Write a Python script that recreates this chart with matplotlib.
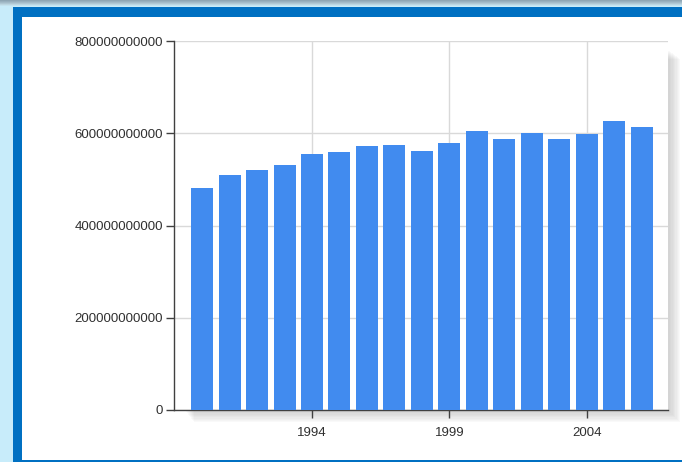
import matplotlib
matplotlib.use("Agg")
import matplotlib.pyplot as plt
from matplotlib.patches import Rectangle
from matplotlib.ticker import FuncFormatter, FixedLocator
import numpy as np

years = [1990, 1991, 1992, 1993, 1994, 1995, 1996, 1997, 1998,
         1999, 2000, 2001, 2002, 2003, 2004, 2005, 2006]
values_billion = [482, 508.5, 521, 530.5, 555, 559, 571.5, 574.5, 561.5,
                  579, 605.5, 588.5, 600.5, 588.5, 598.5, 627, 613]
values = [v * 1e9 for v in values_billion]
y_ticks = [0, 200e9, 400e9, 600e9, 800e9]
x_ticks = [1994, 1999, 2004]

W, H = 682, 462
fig = plt.figure(figsize=(W / 100, H / 100), dpi=100)
fig.patch.set_facecolor("white")

def px_rect(x0, y0, x1, y1, color, z=-3, alpha=1.0):
    # rectangle in pixel coords with y measured from top
    r = Rectangle((x0 / W, 1 - y1 / H), (x1 - x0) / W, (y1 - y0) / H,
                  transform=fig.transFigure, facecolor=color, edgecolor="none",
                  zorder=z, alpha=alpha)
    fig.patches.append(r)

# window background
px_rect(0, 0, W, H, "#C8ECFA")
# top titlebar gradient
grad = ["#8EA6B4", "#98B0BE", "#A3BBC8", "#AFC7D3", "#BCD6E1", "#C4E3EF"]
for i, c in enumerate(grad):
    px_rect(0, i, W, i + 1, c)
# blue border
border = "#0070C2"
px_rect(13.3, 7.3, W, 16.7, border)
px_rect(13.3, 7.3, 22, H, border)
px_rect(13.3, 460, W, H, border)
px_rect(22, 16.7, W, 460, "white")

# axes placement
ax_l, ax_r, ax_t, ax_b = 174, 668, 41, 410
ax = fig.add_axes([ax_l / W, 1 - ax_b / H, (ax_r - ax_l) / W, (ax_b - ax_t) / H])
ax.set_facecolor("white")

# drop shadow behind the plot area
for k in range(9):
    off = 2 + k * 1.3
    px_rect(ax_l + 12 + k, ax_t + 10 + k, ax_r + off, ax_b + off, "#707070", z=-2, alpha=0.035)

ax.bar(years, values, width=0.8, color="#418BEF", zorder=3)

ax.set_xlim(1988.98, 2006.95)
ax.set_ylim(0, 800e9)
ax.yaxis.set_major_locator(FixedLocator(y_ticks))
ax.xaxis.set_major_locator(FixedLocator(x_ticks))
ax.yaxis.set_major_formatter(FuncFormatter(lambda v, p: f"{int(round(v))}"))
ax.xaxis.set_major_formatter(FuncFormatter(lambda v, p: f"{int(round(v))}"))

ax.grid(True, color="#D9D9D9", linewidth=1.0, zorder=0)
ax.set_axisbelow(True)

for s in ["top", "right"]:
    ax.spines[s].set_visible(False)
for s in ["left", "bottom"]:
    ax.spines[s].set_color("#404040")
    ax.spines[s].set_linewidth(1.0)

ax.tick_params(axis="both", direction="out", length=6, width=1.0, color="#404040",
               labelsize=9.5, labelcolor="#303030", pad=2)
ax.tick_params(axis="x", pad=6)
for lbl in ax.get_xticklabels() + ax.get_yticklabels():
    lbl.set_fontfamily("Liberation Sans")

fig.savefig("out.png", dpi=100)
